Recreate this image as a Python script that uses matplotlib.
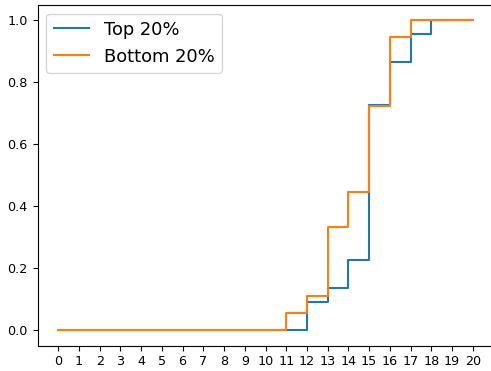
import numpy as np
import matplotlib.pyplot as plt

# cumulative share reached by each x value
x_values = list(range(0, 21))
top_cdf = [0.0] * 12 + [0.091, 0.136, 0.227, 0.727, 0.864, 0.955, 1.0, 1.0, 1.0]
bottom_cdf = [0.0] * 11 + [0.056, 0.111, 0.333, 0.444, 0.722, 0.944, 1.0, 1.0, 1.0, 1.0]
series_labels = ['Top 20%', 'Bottom 20%']

fig = plt.figure(figsize=(4.91, 3.71), dpi=100)
ax = fig.add_axes([0.0764, 0.0687, 0.9287, 0.919])

ax.step(x_values, top_cdf, where='post', label=series_labels[0], color='#1f77b4', linewidth=1.5)
ax.step(x_values, bottom_cdf, where='post', label=series_labels[1], color='#ff7f0e', linewidth=1.5)

ax.set_xticks(x_values)
ax.tick_params(labelsize=9.2)
ax.legend(loc='upper left', fontsize=12.9)

plt.savefig('out.png', dpi=100)
